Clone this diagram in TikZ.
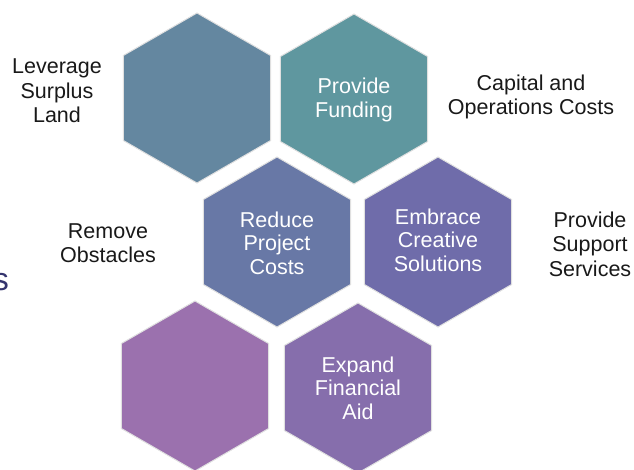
\documentclass[tikz,border=0pt]{standalone}
\usepackage{fontspec}
\setmainfont{Liberation Sans}
\usetikzlibrary{shapes.geometric}
\definecolor{hexsteel}{HTML}{6487A0}
\definecolor{hexteal}{HTML}{5F979F}
\definecolor{hexslate}{HTML}{6878A6}
\definecolor{hexindigo}{HTML}{6F6CAA}
\definecolor{hexorchid}{HTML}{9B71AE}
\definecolor{hexviolet}{HTML}{866EAC}
\definecolor{cutnavy}{HTML}{34346E}

\begin{document}
\begin{tikzpicture}[x=1pt,y=-1pt,
  hexa/.style={regular polygon,regular polygon sides=6,shape border rotate=30,
    minimum size=170pt,inner sep=0pt,draw=black!12,line width=1pt},
  hextext/.style={text=white,align=center,font=\fontsize{21.5}{23.5}\selectfont},
  sidetext/.style={text=black!90,align=center,font=\fontsize{21.5}{24.5}\selectfont}]
  \useasboundingbox (0,0) rectangle (634,469);

  % top row
  \node[hexa,fill=hexsteel] (land) at (197,98) {};
  \node[hexa,fill=hexteal] (funding) at (354,99) {};
  \node[hextext] (funding_text) at (354,100) {Provide\\Funding};
  % middle row
  \node[hexa,fill=hexslate] (costs) at (277,242) {};
  \node[hextext] (costs_text) at (277,243) {Reduce\\Project\\Costs};
  \node[hexa,fill=hexindigo] (creative) at (438,242) {};
  \node[hextext] (creative_text) at (438,240) {Embrace\\Creative\\Solutions};
  % bottom row
  \node[hexa,fill=hexorchid] (obstacles) at (195,386) {};
  \node[hexa,fill=hexviolet] (aid) at (358,388) {};
  \node[hextext] (aid_text) at (358,388) {Expand\\Financial\\Aid};

  % labels beside the hexagons
  \node[sidetext] (land_text) at (57,91) {Leverage\\Surplus\\Land};
  \node[sidetext] (capital_text) at (531,97) {Capital and\\Operations Costs};
  \node[sidetext] (remove_text) at (108,243) {Remove\\Obstacles};
  \node[sidetext] (support_text) at (590,244) {Provide\\Support\\Services};

  % cut off letter at the left edge
  \node[anchor=base east,text=cutnavy,font=\fontsize{32}{36}\selectfont,inner sep=0pt] (cut) at (9,290) {s};
\end{tikzpicture}
\end{document}
